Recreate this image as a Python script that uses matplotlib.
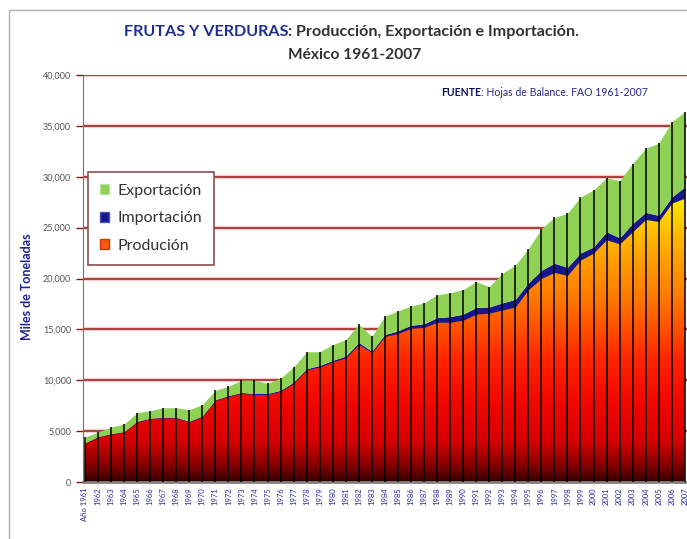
# Frutas y verduras: produccion, exportacion e importacion (Mexico 1961-2007)

import numpy as np
import matplotlib
matplotlib.use("Agg")
import matplotlib.pyplot as plt
from matplotlib.colors import LinearSegmentedColormap
from matplotlib.patches import Patch, Rectangle

plt.rcParams['font.family'] = ['Lato', 'DejaVu Sans']

# datos (miles de toneladas)
years = list(range(1961, 2008))
tick_labels = ['Año 1961'] + [str(a) for a in years[1:]]

produccion = [3800, 4400, 4700, 4900, 5900, 6200, 6300, 6300, 5900, 6400,
              8000, 8400, 8700, 8600, 8600, 8900, 9700, 11000, 11300, 11800,
              12200, 13500, 12700, 14300, 14600, 15100, 15200, 15700, 15700, 15900,
              16500, 16600, 16900, 17200, 18900, 20000, 20600, 20300, 21800, 22500,
              23800, 23400, 24600, 25800, 25600, 27400, 27900]
importacion = [50, 50, 50, 50, 60, 60, 70, 70, 70, 80,
               80, 90, 100, 100, 100, 110, 120, 140, 150, 160,
               180, 200, 160, 200, 250, 300, 350, 450, 550, 600,
               650, 600, 700, 750, 650, 800, 900, 800, 700, 600,
               800, 600, 800, 700, 600, 600, 1100]
total = [4400, 4900, 5400, 5700, 6800, 7000, 7300, 7300, 7100, 7600,
         9000, 9400, 10000, 10000, 9700, 10200, 11300, 12800, 12800, 13500,
         14000, 15500, 14300, 16300, 16800, 17300, 17600, 18400, 18600, 18900,
         19700, 19200, 20500, 21300, 22900, 24900, 26000, 26400, 28000, 28700,
         29900, 29600, 31300, 32800, 33300, 35400, 36400]

x = np.arange(len(years))
prod = np.array(produccion)
imp = prod + np.array(importacion)
tot = np.array(total)

fig = plt.figure(figsize=(6.87, 5.39), dpi=100)
ax = fig.add_axes([83/687, 57/539, 604/687, 407/539])

xlim = (-0.15, 46.17)

# lineas de rejilla rojo oscuro con halo
for v in range(5000, 40001, 5000):
    ax.axhline(v, color='#f6cccc', lw=3, zorder=0.4)
    ax.axhline(v, color='#951a1a', lw=1.1, zorder=0.5)

# produccion con degradado vertical
cmap = LinearSegmentedColormap.from_list('prod', [
    (0.0, '#3a0000'), (0.04, '#880000'), (0.1, '#d80000'), (0.2, '#f20800'),
    (0.3, '#ff2400'), (0.375, '#ff5000'), (0.45, '#ff7800'), (0.55, '#ffa000'),
    (0.62, '#ffc000'), (0.7, '#ffec00'), (1.0, '#ffff40')])
poly = ax.fill_between(x, 0, prod, facecolor='none', edgecolor='none')
grad = np.linspace(0, 1, 400).reshape(-1, 1)
im = ax.imshow(grad, extent=[xlim[0], xlim[1], 0, 40000], aspect='auto',
               origin='lower', cmap=cmap, zorder=1)
im.set_clip_path(poly.get_paths()[0], transform=ax.transData)

ax.fill_between(x, prod, imp, color='#16168f', lw=0, zorder=2)
ax.fill_between(x, imp, tot, color='#8fd155', lw=0, zorder=2)

# lineas de caida en cada año
ax.vlines(x, 0, tot, color='black', lw=1.1, zorder=3)

ax.set_xlim(*xlim)
ax.set_ylim(0, 40000)
ax.set_yticks(range(0, 40001, 5000))
ax.set_yticklabels([f'{v:,}' for v in range(0, 40001, 5000)])
ax.tick_params(axis='y', labelsize=6.5, labelcolor='#555555', color='#8e1515',
               length=5, width=1)
ax.set_xticks(x)
ax.set_xticklabels(tick_labels, rotation=90, fontsize=5.5, color='#2a2aa0')
ax.tick_params(axis='x', length=0, pad=4)

for s in ['top', 'right']:
    ax.spines[s].set_visible(False)
ax.spines['left'].set_color('#8a6a6a')
ax.spines['bottom'].set_color('#808080')
ax.spines['bottom'].set_linewidth(2)

ax.set_ylabel('Miles de Toneladas', fontsize=9, fontweight='bold',
              color='#202090')
ax.yaxis.set_label_coords(-0.083, 0.48)

# leyenda
handles = [Patch(facecolor='#8fd155', edgecolor='#b5e09a'),
           Patch(facecolor='#16168f', edgecolor='#5050b0'),
           Patch(facecolor='#f25a10', edgecolor='#e03000')]
leg = ax.legend(handles, ['Exportación', 'Importación', 'Produción'],
                loc='upper left', bbox_to_anchor=(0.008, 0.762), borderaxespad=0,
                fontsize=11.5, handlelength=0.6, handleheight=0.6,
                handletextpad=0.5, labelspacing=0.85, borderpad=0.75,
                fancybox=False, framealpha=1, edgecolor='#8a5050')
leg.get_frame().set_linewidth(1.2)
for t in leg.get_texts():
    t.set_color('#333333')

# titulo
fig.text(288/687, 1 - 32/539, 'FRUTAS Y VERDURAS', ha='right', va='center',
         fontsize=11.6, fontweight='bold', color='#1f2f8f')
fig.text(288/687, 1 - 32/539, ': Producción, Exportación e Importación.',
         ha='left', va='center', fontsize=11.6, fontweight='bold', color='#333333')
fig.text(355/687, 1 - 55/539, 'México 1961-2007', ha='center', va='center',
         fontsize=11.2, fontweight='bold', color='#333333')

# fuente
fig.text(481/687, 1 - 93/539, 'FUENTE', ha='right', va='center',
         fontsize=7.6, fontweight='bold', color='#101060')
fig.text(481/687, 1 - 93/539, ': Hojas de Balance. FAO 1961-2007', ha='left',
         va='center', fontsize=7.6, color='#2a2a8a')

# marco exterior
fig.patches.append(Rectangle((9/687, -0.05), 1.0, 1 - 10/539 + 0.05,
                             transform=fig.transFigure, fill=False,
                             edgecolor='#b0b0b0', lw=1))

fig.savefig('out.png', dpi=100)
